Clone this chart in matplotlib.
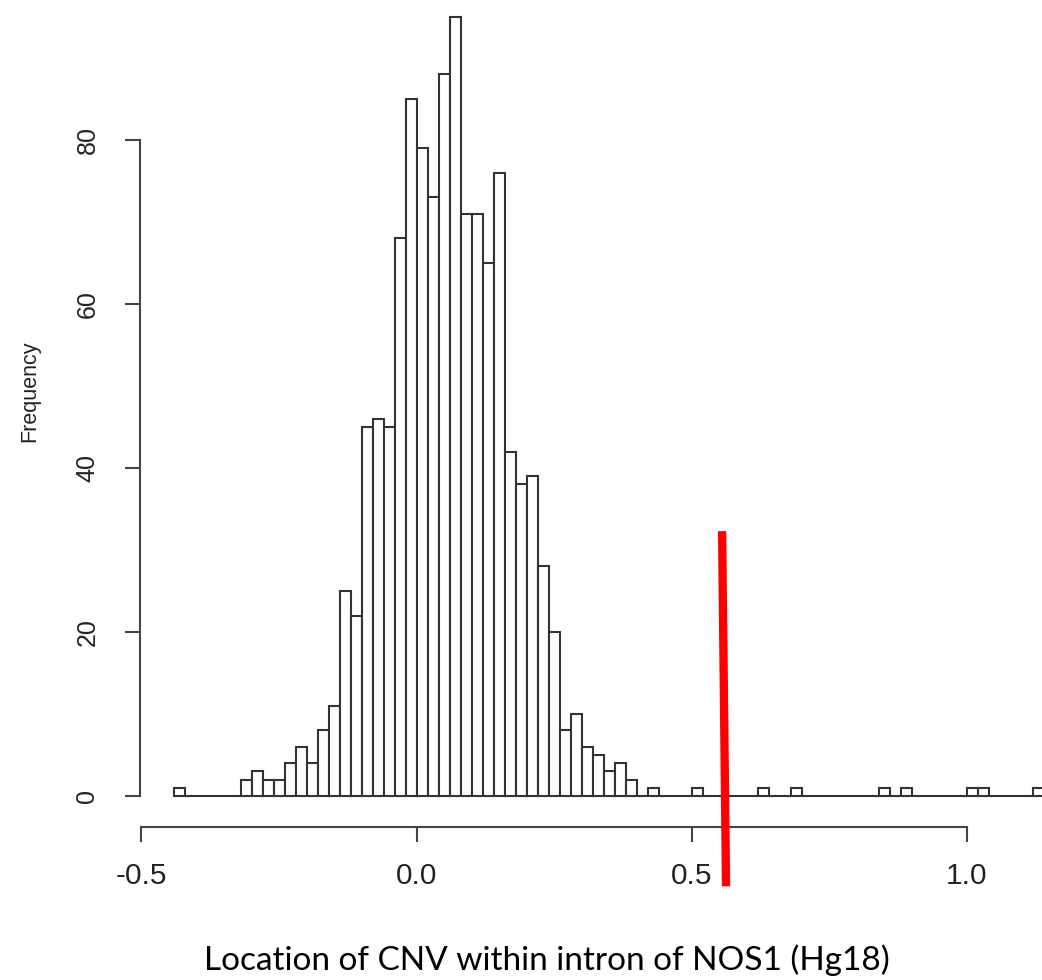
import numpy as np
import matplotlib
matplotlib.use("Agg")
import matplotlib.pyplot as plt

# histogram of CNV locations, bins of width 0.02 starting at -0.44
bin_start = -0.44
bin_width = 0.02
counts = [1, 0, 0, 0, 0, 0, 2, 3, 2, 2,
          4, 6, 4, 8, 11, 25, 22, 45, 46, 45,
          68, 85, 79, 73, 88, 95, 71, 71, 65, 76,
          42, 38, 39, 28, 20, 8, 10, 6, 5, 3,
          4, 2, 0, 1, 0, 0, 0, 1, 0, 0,
          0, 0, 0, 1, 0, 0, 1, 0, 0, 0,
          0, 0, 0, 0, 1, 0, 1, 0, 0, 0,
          0, 0, 1, 1, 0, 0, 0, 0, 1]

# observed CNV location (red marker line), as drawn (slightly tilted)
cnv_x = [0.5555, 0.5627]
cnv_y = [32.3, -11.0]

x_ticks = [-0.5, 0.0, 0.5, 1.0]
y_ticks = [0, 20, 40, 60, 80]

lefts = bin_start + bin_width * np.arange(len(counts))

fig = plt.figure(figsize=(10.42, 9.80), dpi=100)
ax = fig.add_axes([0.1341, 0.1559, 0.9008, 0.8586])

ax.bar(lefts, counts, width=bin_width, align="edge", color="white",
       edgecolor="#333333", linewidth=1.5)
ax.plot(cnv_x, cnv_y, color="#ff0000", linewidth=6, solid_capstyle="butt",
        clip_on=False, zorder=5)

ax.set_xlim(-0.5032, 1.2032)
ax.set_ylim(-3.8, 98.8)

for s in ["top", "right"]:
    ax.spines[s].set_visible(False)
ax.spines["bottom"].set_bounds(-0.5, 1.0)
ax.spines["left"].set_bounds(0, 80)
for s in ["bottom", "left"]:
    ax.spines[s].set_color("#444444")
    ax.spines[s].set_linewidth(1.5)

ax.set_xticks(x_ticks)
ax.set_xticklabels(["-0.5", "0.0", "0.5", "1.0"])
ax.set_yticks(y_ticks)
ax.tick_params(axis="both", direction="out", length=11, width=1.5, color="#444444")
ax.tick_params(axis="x", labelsize=21.5, pad=14, labelcolor="#222222")
ax.tick_params(axis="y", labelsize=18, pad=18, labelcolor="#222222")
for lab in ax.get_xticklabels() + ax.get_yticklabels():
    lab.set_family("Liberation Sans")
for lab in ax.get_yticklabels():
    lab.set_rotation(90)
    lab.set_va("center")

fig.text(30 / 1042, 1 - 391 / 980, "Frequency", rotation=90, ha="center",
         va="center", fontsize=15.5, family="Liberation Sans", color="#222222")
fig.text(547 / 1042, 1 - 970 / 980, "Location of CNV within intron of NOS1 (Hg18)",
         ha="center", va="baseline", fontsize=24, family="Lato", color="black")

fig.savefig("out.png", dpi=100)
